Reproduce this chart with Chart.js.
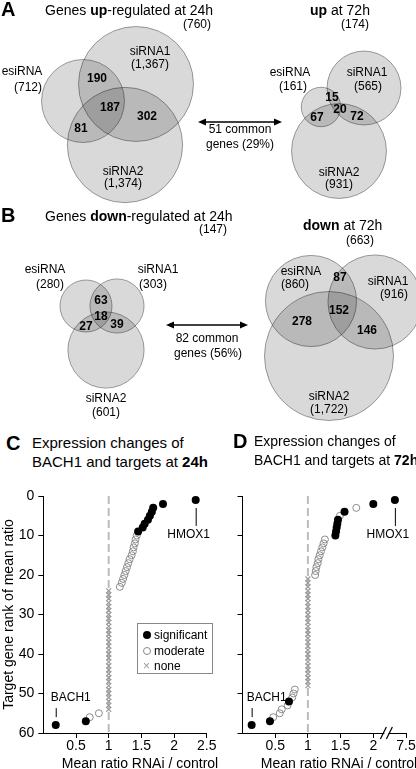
<!DOCTYPE html>
<html lang="en">
<head>
<meta charset="UTF-8" />
<title>BACH1 knockdown: overlaps and target ranks</title>
<style>
  body {
    margin: 0;
    width: 416px;
    height: 769px;
    position: relative;
    overflow: hidden;
    background: #fff;
    color: #000;
    font-family: Arial, "Liberation Sans", sans-serif;
  }
  canvas { position: absolute; }
  .t {
    position: absolute;
    white-space: nowrap;
    line-height: 1;
    transform: translateY(-50%);
  }
  .mid { transform: translate(-50%, -50%); }
  .letter { font-weight: bold; font-size: 20px; }
  .head { font-size: 14px; }
  .sub { font-size: 15px; }
  .sub2 { font-size: 14px; }
  .axt { font-size: 14px; }
  #legend {
    position: absolute;
    left: 137px; top: 623px; width: 74px; height: 49px;
    border: 1px solid #888;
    font-size: 12px;
  }
  #legend .row { position: absolute; left: 16px; line-height: 1; transform: translateY(-50%); white-space: nowrap; }
  #legend .sym { position: absolute; left: -11px; top: 50%; transform: translateY(-50%); }
  .dot { width: 8px; height: 8px; border-radius: 50%; background: #000; }
  .ring { width: 6px; height: 6px; border-radius: 50%; border: 1px solid #888; }
  .cross { color: #999; font-size: 12px; left: -11px !important; }
</style>
</head>
<body>
  <canvas id="venn" width="416" height="425" style="left:0;top:0"></canvas>
  <canvas id="rank24" width="225" height="302" style="left:0;top:470px"></canvas>
  <canvas id="rank72" width="216" height="302" style="left:200px;top:470px"></canvas>

  <div class="t letter" style="left:1px;top:9px">A</div>
  <div class="t head" style="left:45px;top:10px">Genes <b>up</b>-regulated at 24h</div>
  <div class="t head" style="left:310px;top:10px"><b>up</b> at 72h</div>

  <div class="t letter" style="left:1px;top:215px">B</div>
  <div class="t head" style="left:45px;top:216px">Genes <b>down</b>-regulated at 24h</div>
  <div class="t head" style="left:303px;top:225px"><b>down</b> at 72h</div>

  <div class="t letter" style="left:6px;top:443px">C</div>
  <div class="t sub" style="left:32px;top:442px">Expression changes of</div>
  <div class="t sub" style="left:32px;top:461px">BACH1 and targets at <b>24h</b></div>

  <div class="t letter" style="left:233px;top:441px">D</div>
  <div class="t sub2" style="left:254px;top:441px">Expression changes of</div>
  <div class="t sub2" style="left:254px;top:460px">BACH1 and targets at <b>72h</b></div>

  <div class="t axt mid" style="left:140px;top:763px">Mean ratio RNAi / control</div>
  <div class="t axt mid" style="left:339px;top:763px">Mean ratio RNAi / control</div>

  <div id="legend">
    <div class="row" style="top:11px"><span class="sym dot"></span>significant</div>
    <div class="row" style="top:27px"><span class="sym ring"></span>moderate</div>
    <div class="row" style="top:42px"><span class="sym cross">×</span>none</div>
  </div>

  <script src="https://cdn.jsdelivr.net/npm/chart.js"></script>
  <script>
    // ---- Venn data (genes per method: esiRNA, siRNA1, siRNA2) ----
    const setNames = ["esiRNA", "siRNA1", "siRNA2"];
    const up24 = [712, 1367, 1374];
    const up72 = [161, 565, 931];
    const down24 = [280, 303, 601];
    const down72 = [860, 916, 1722];
    // overlaps: esi&si1 only, all three, si1&si2 only, esi&si2 only
    const upOv24 = [190, 187, 302, 81];
    const upOv72 = [15, 20, 72, 67];
    const downOv24 = [63, 18, 39, 27];
    const downOv72 = [87, 152, 146, 278];
    const vennTotals = [760, 174, 147, 663];
    const commonGenes = [51, 82];
    const commonPct = [29, 56];

    // ---- rank plots: mean ratio RNAi/control, in rank order 1..58 ----
    // S = significant, M = moderate, N = none
    const ratio24 = [
      2.33, 1.83, 1.68, 1.66, 1.63, 1.60, 1.55, 1.52, 1.45,
      1.43, 1.41, 1.40, 1.38, 1.37, 1.35, 1.32, 1.30, 1.28, 1.26, 1.24, 1.22, 1.20, 1.17,
      1.00, 1.00, 1.00, 1.00, 1.00, 1.00, 1.00, 1.00, 1.00, 1.00, 1.00, 1.00, 1.00, 1.00,
      1.00, 1.00, 1.00, 1.00, 1.00, 1.00, 1.00, 1.00, 1.00, 1.00, 1.00, 1.00, 1.00, 1.00,
      1.00, 1.00, 1.00,
      0.85, 0.71, 0.65, 0.19,
    ];
    const class24 = [
      "S", "S", "S", "S", "S", "S", "S", "S", "S",
      "M", "M", "M", "M", "M", "M", "M", "M", "M", "M", "M", "M", "M", "M",
      "N", "N", "N", "N", "N", "N", "N", "N", "N", "N", "N", "N", "N", "N",
      "N", "N", "N", "N", "N", "N", "N", "N", "N", "N", "N", "N", "N", "N",
      "N", "N", "N",
      "M", "M", "S", "S",
    ];
    const ratio72 = [
      7.33, 2.00, 1.74, 1.56, 1.49, 1.46, 1.45, 1.44, 1.43, 1.42,
      1.26, 1.24, 1.22, 1.20, 1.18, 1.16, 1.15, 1.13, 1.12, 1.11,
      1.00, 1.00, 1.00, 1.00, 1.00, 1.00, 1.00, 1.00, 1.00, 1.00, 1.00, 1.00, 1.00, 1.00,
      1.00, 1.00, 1.00, 1.00, 1.00, 1.00, 1.00, 1.00, 1.00, 1.00, 1.00, 1.00, 1.00, 1.00,
      0.80, 0.78, 0.76, 0.71, 0.69, 0.60, 0.57, 0.47, 0.42, 0.14,
    ];
    const class72 = [
      "S", "S", "M", "S", "M", "S", "S", "S", "S", "S",
      "M", "M", "M", "M", "M", "M", "M", "M", "M", "M",
      "N", "N", "N", "N", "N", "N", "N", "N", "N", "N", "N", "N", "N", "N",
      "N", "N", "N", "N", "N", "N", "N", "N", "N", "N", "N", "N", "N", "N",
      "M", "M", "M", "S", "M", "M", "M", "M", "S", "S",
    ];
    const tagged24 = [["HMOX1", 1], ["BACH1", 58]];
    const tagged72 = [["HMOX1", 1], ["BACH1", 58]];
    const xTicks = [0.5, 1, 1.5, 2, 2.5];
    const xTicks72 = [0.5, 1, 1.5, 2, 7.5];
    const yTicks = [0, 10, 20, 30, 40, 50, 60];

    const FONT = 'Arial, "Liberation Sans", sans-serif';
    Chart.defaults.font.family = FONT;
    Chart.defaults.color = "#000";

    // ---------- Venn diagrams ----------
    const pxPerRootGene = 1.555; // circle radius scale
    const venns = [
      { sizes: up24, ov: upOv24, total: vennTotals[0],
        c: [[83, 101], [136, 84], [125, 145]],
        name: [[22, 72], [150, 52], [123, 172]],
        count: [[28, 88], [150, 65], [123, 184]],
        ovAt: [[97, 79], [110, 108], [147, 117], [81, 129]],
        totalAt: [197, 25] },
      { sizes: up72, ov: upOv72, total: vennTotals[1],
        c: [[321, 107], [364, 88], [339, 151]],
        name: [[290, 73], [367, 73], [339, 173]],
        count: [[293, 87], [368, 87], [339, 185]],
        ovAt: [[332, 98], [340, 110], [357, 117], [317, 118]],
        totalAt: [355, 25] },
      { sizes: down24, ov: downOv24, total: vennTotals[2],
        c: [[86, 306], [117, 306], [106, 350]],
        name: [[45, 270], [158, 270], [106, 399]],
        count: [[50, 285], [153, 285], [106, 413]],
        ovAt: [[101, 301], [101, 317], [117, 325], [86, 327]],
        totalAt: [213, 230] },
      { sizes: down72, ov: downOv72, total: vennTotals[3],
        c: [[311, 301], [375, 302], [329, 356]],
        name: [[301, 272], [388, 282], [329, 397]],
        count: [[295, 285], [394, 295], [329, 410]],
        ovAt: [[340, 278], [339, 311], [367, 331], [302, 322]],
        totalAt: [360, 241] },
    ];
    const arrows = [
      { x0: 198, x1: 282, y: 122, txt: [[240, 130], [240, 145]] },
      { x0: 166, x1: 248, y: 325, txt: [[207, 339], [208, 354]] },
    ];

    const circles = [];
    venns.forEach((v) => {
      v.sizes.forEach((n, i) => {
        circles.push({ x: v.c[i][0], y: v.c[i][1], r: pxPerRootGene * Math.sqrt(n) });
      });
    });

    const vennText = {
      id: "vennText",
      afterDatasetsDraw(chart) {
        const { ctx } = chart;
        const sx = chart.scales.x, sy = chart.scales.y;
        const P = (p) => [sx.getPixelForValue(p[0]), sy.getPixelForValue(p[1])];
        ctx.save();
        ctx.fillStyle = "#000";
        ctx.strokeStyle = "#000";
        ctx.textAlign = "center";
        ctx.textBaseline = "middle";
        venns.forEach((v) => {
          ctx.font = "12px " + FONT;
          v.sizes.forEach((n, i) => {
            ctx.fillText(setNames[i], ...P(v.name[i]));
            ctx.fillText("(" + n.toLocaleString("en-US") + ")", ...P(v.count[i]));
          });
          ctx.fillText("(" + v.total + ")", ...P(v.totalAt));
          ctx.font = "bold 12px " + FONT;
          v.ov.forEach((n, i) => ctx.fillText(String(n), ...P(v.ovAt[i])));
        });
        ctx.font = "12px " + FONT;
        arrows.forEach((a, i) => {
          const [ax0, ay] = P([a.x0, a.y]);
          const [ax1] = P([a.x1, a.y]);
          ctx.lineWidth = 1.5;
          ctx.beginPath();
          ctx.moveTo(ax0 + 4, ay);
          ctx.lineTo(ax1 - 4, ay);
          ctx.stroke();
          [[ax0, 1], [ax1, -1]].forEach(([hx, d]) => {
            ctx.beginPath();
            ctx.moveTo(hx, ay);
            ctx.lineTo(hx + d * 8, ay - 3.5);
            ctx.lineTo(hx + d * 8, ay + 3.5);
            ctx.closePath();
            ctx.fill();
          });
          ctx.fillText(commonGenes[i] + " common", ...P(a.txt[0]));
          ctx.fillText("genes (" + commonPct[i] + "%)", ...P(a.txt[1]));
        });
        ctx.restore();
      },
    };

    new Chart(document.getElementById("venn"), {
      type: "bubble",
      data: {
        datasets: [{
          data: circles,
          backgroundColor: "rgba(0,0,0,0.15)",
          borderColor: "rgba(0,0,0,0.36)",
          borderWidth: 1,
          clip: false,
        }],
      },
      options: {
        responsive: false,
        animation: false,
        events: [],
        layout: { padding: 0, autoPadding: false },
        scales: {
          x: { type: "linear", min: 0, max: 416, display: false },
          y: { type: "linear", min: 0, max: 425, reverse: true, display: false },
        },
        plugins: { legend: { display: false }, tooltip: { enabled: false } },
      },
      plugins: [vennText],
    });

    // ---------- rank plots ----------
    // 72h axis is broken between 2 and 7.5
    const brk = (v) => (v > 2.3 ? v - 5 : v);
    const unbrk = (p) => (p > 2.3 ? p + 5 : p);

    const geneTags = {
      id: "geneTags",
      afterDatasetsDraw(chart, args, o) {
        const { ctx } = chart;
        const sx = chart.scales.x, sy = chart.scales.y;
        ctx.save();
        ctx.strokeStyle = "#000";
        ctx.fillStyle = "#000";
        ctx.lineWidth = 1;
        ctx.font = "12px " + FONT;
        ctx.textBaseline = "middle";
        o.tags.forEach(([name, rank]) => {
          const px = sx.getPixelForValue(o.pos(o.values[rank - 1]));
          const py = sy.getPixelForValue(rank);
          ctx.beginPath();
          if (rank < 30) {
            ctx.moveTo(px + 0.5, py + 8);
            ctx.lineTo(px + 0.5, py + 26);
            ctx.stroke();
            ctx.textAlign = "center";
            ctx.fillText(name, px - 7, py + 35);
          } else {
            ctx.moveTo(px + 0.5, py - 8);
            ctx.lineTo(px + 0.5, py - 17);
            ctx.stroke();
            ctx.textAlign = "left";
            ctx.fillText(name, px - 5, py - 27);
          }
        });
        if (o.breakAt) {
          const bx = sx.getPixelForValue(o.breakAt);
          const by = chart.chartArea.bottom;
          ctx.fillStyle = "#fff";
          ctx.fillRect(bx - 2, by - 2, 4, 4);
          ctx.lineWidth = 1.2;
          [-3, 3].forEach((dx) => {
            ctx.beginPath();
            ctx.moveTo(bx + dx - 3, by + 6);
            ctx.lineTo(bx + dx + 3, by - 6);
            ctx.stroke();
          });
        }
        ctx.restore();
      },
    };

    function rankChart(id, values, classes, tags, opt) {
      const pts = { S: [], M: [], N: [] };
      values.forEach((v, i) => pts[classes[i]].push({ x: opt.pos(v), y: i + 1 }));
      return new Chart(document.getElementById(id), {
        type: "scatter",
        data: {
          datasets: [
            { data: pts.S, pointStyle: "circle", pointRadius: 4,
              backgroundColor: "#000", borderColor: "#000", borderWidth: 0, order: 0, clip: false },
            { data: pts.M, pointStyle: "circle", pointRadius: 3.5,
              backgroundColor: "rgba(0,0,0,0)", borderColor: "#8a8a8a", borderWidth: 1, order: 1, clip: false },
            { data: pts.N, pointStyle: "crossRot", pointRadius: 3.5,
              borderColor: "#9a9a9a", borderWidth: 1.2, order: 2, clip: false },
            { type: "line", data: [{ x: 1, y: 0 }, { x: 1, y: 60 }], borderColor: "#bbbbbb",
              borderWidth: 2, borderDash: [8, 4], pointRadius: 0, order: 3 },
          ],
        },
        options: {
          responsive: false,
          animation: false,
          events: [],
          layout: { padding: { top: 26, right: opt.right, left: 0, bottom: 0 }, autoPadding: false },
          scales: {
            x: {
              type: "linear", min: 0, max: 2.5,
              afterBuildTicks: (s) => { s.ticks = opt.ticks.map((v) => ({ value: opt.pos(v) })); },
              afterFit: (s) => { s.height = 39; },
              ticks: {
                font: { size: 14 }, color: "#000", padding: 0, maxRotation: 0, autoSkip: false,
                callback: (v) => String(opt.unpos(v)),
              },
              grid: { display: true, drawOnChartArea: false, drawTicks: true, tickLength: 5, color: "#000" },
              border: { display: true, color: "#000", width: 1 },
            },
            y: {
              type: "linear", min: 0, max: 60, reverse: true,
              afterBuildTicks: (s) => { s.ticks = yTicks.map((v) => ({ value: v })); },
              afterFit: (s) => { s.width = opt.left; },
              ticks: { display: opt.yLabels, font: { size: 14 }, color: "#000", padding: 4 },
              grid: { display: true, drawOnChartArea: false, drawTicks: true, tickLength: 5, color: "#000" },
              border: { display: true, color: "#000", width: 1 },
              title: {
                display: opt.yLabels, text: "Target gene rank of mean ratio",
                font: { size: 14 }, color: "#000", padding: { top: 1, bottom: 0 },
              },
            },
          },
          plugins: {
            legend: { display: false },
            tooltip: { enabled: false },
            geneTags: { tags: tags, values: values, pos: opt.pos, breakAt: opt.breakAt },
          },
        },
        plugins: [geneTags],
      });
    }

    rankChart("rank24", ratio24, class24, tagged24,
      { pos: (v) => v, unpos: (p) => p, ticks: xTicks, left: 43.3, right: 18.2, yLabels: true, breakAt: null });
    rankChart("rank72", ratio72, class72, tagged72,
      { pos: brk, unpos: unbrk, ticks: xTicks72, left: 42.5, right: 10, yLabels: false, breakAt: 2.2 });
  </script>
</body>
</html>
